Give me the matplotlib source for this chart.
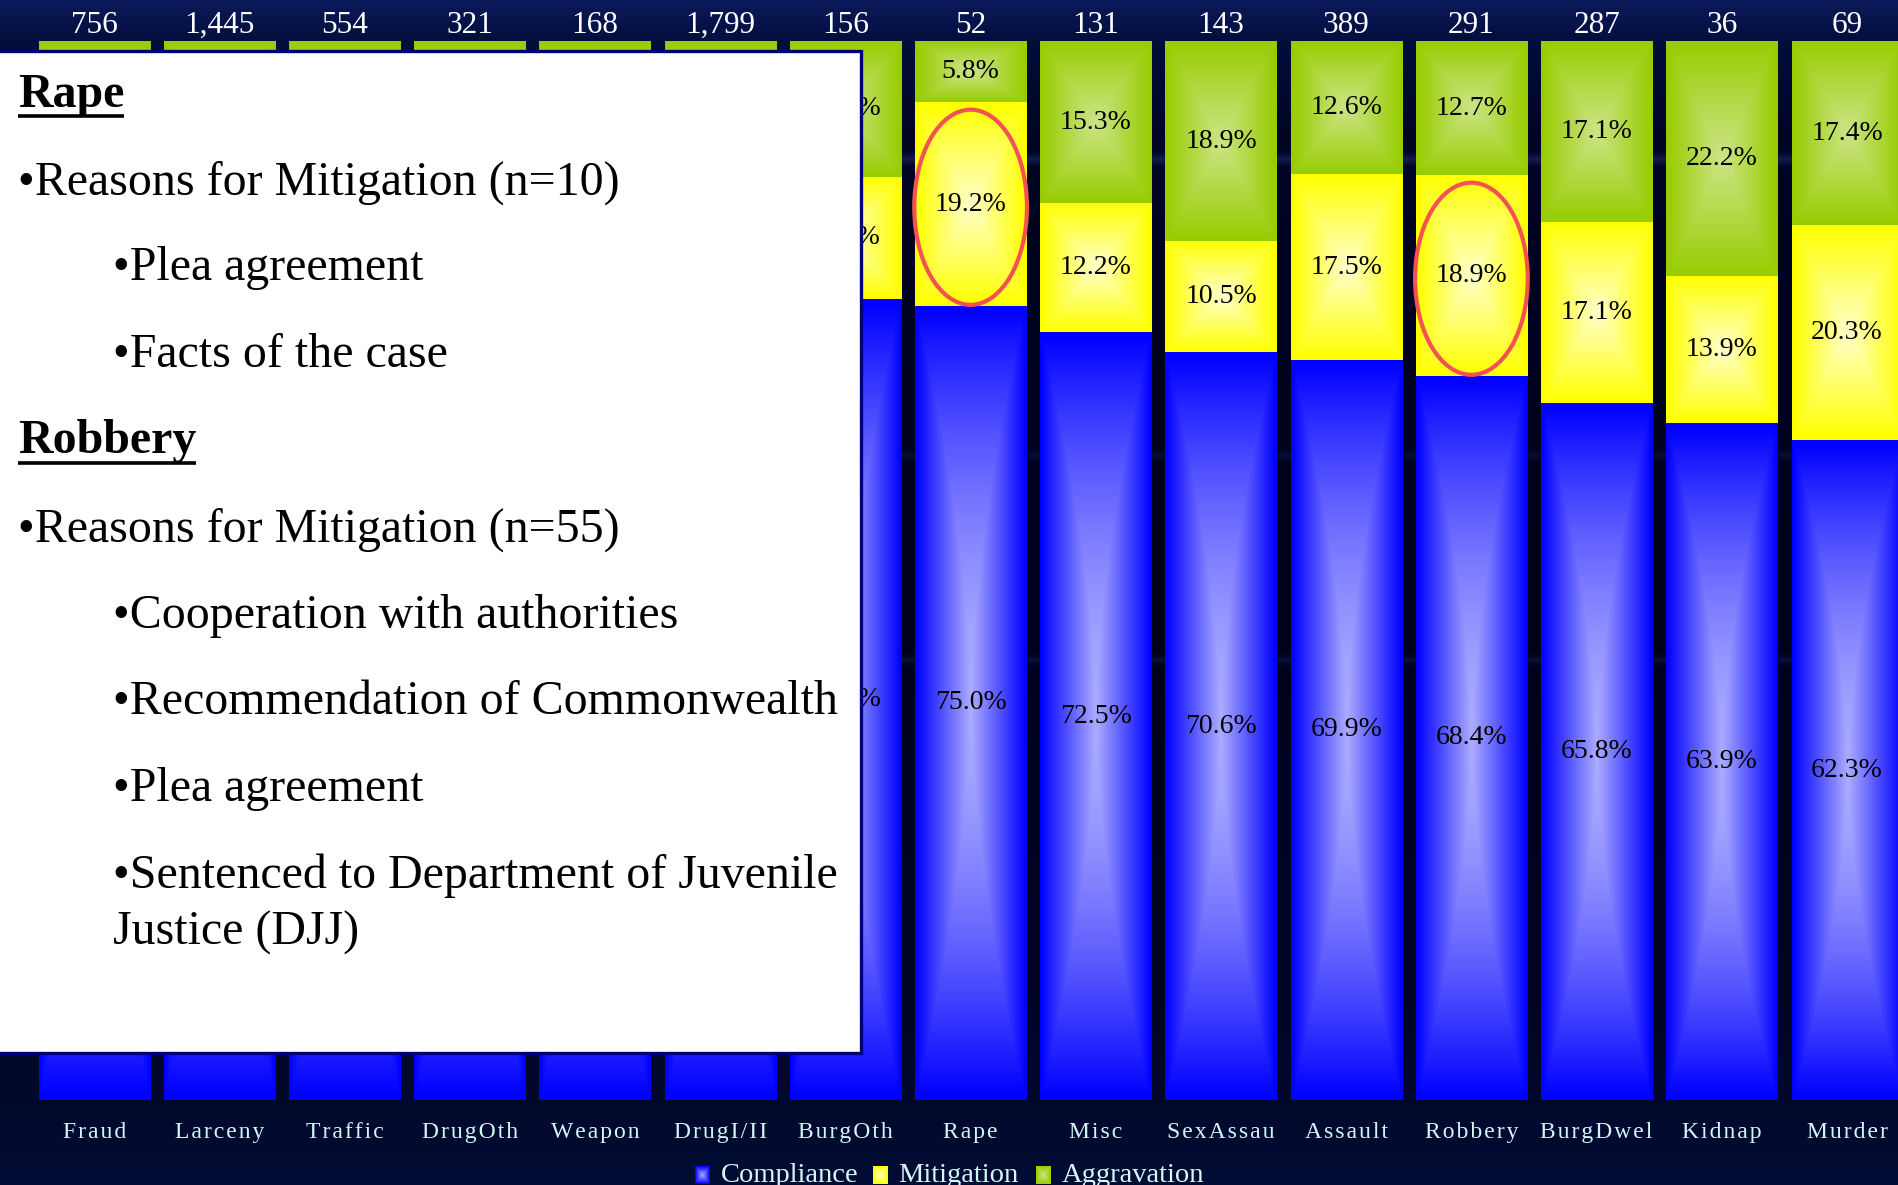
import numpy as np
import matplotlib
matplotlib.use("Agg")
import matplotlib.pyplot as plt
from matplotlib.patches import Rectangle, Ellipse
from matplotlib.colors import to_rgb
from matplotlib.transforms import Bbox

# ---------------- data ----------------
categories = ["Fraud", "Larceny", "Traffic", "DrugOth", "Weapon", "DrugI/II", "BurgOth",
              "Rape", "Misc", "SexAssau", "Assault", "Robbery", "BurgDwel", "Kidnap", "Murder"]
counts = ["756", "1,445", "554", "321", "168", "1,799", "156",
          "52", "131", "143", "389", "291", "287", "36", "69"]
compliance = [84.5, 82.1, 80.3, 79.4, 78.0, 76.9, 75.6, 75.0, 72.5, 70.6, 69.9, 68.4, 65.8, 63.9, 62.3]
mitigation = [7.8, 8.6, 9.4, 9.9, 10.7, 11.2, 11.6, 19.2, 12.2, 10.5, 17.5, 18.9, 17.1, 13.9, 20.3]
aggravation = [7.7, 9.3, 10.3, 10.7, 11.3, 11.9, 12.8, 5.8, 15.3, 18.9, 12.6, 12.7, 17.1, 22.2, 17.4]
series_names = ["Compliance", "Mitigation", "Aggravation"]
highlighted = ["Rape", "Robbery"]
# bars whose value labels are entirely covered by the note box in the original slide
covered = ["Fraud", "Larceny", "Traffic", "DrugOth", "Weapon", "DrugI/II"]

box_lines = [
    ("Rape", True, 0),
    ("\u2022Reasons for Mitigation (n=10)", False, 0),
    ("\u2022Plea agreement", False, 1),
    ("\u2022Facts of the case", False, 1),
    ("Robbery", True, 0),
    ("\u2022Reasons for Mitigation (n=55)", False, 0),
    ("\u2022Cooperation with authorities", False, 1),
    ("\u2022Recommendation of Commonwealth", False, 1),
    ("\u2022Plea agreement", False, 1),
    ("\u2022Sentenced to Department of Juvenile", False, 1),
    ("Justice (DJJ)", False, 1),
]

# ---------------- style ----------------
W, H = 1899, 1185
DPI = 100
SERIF = ["Liberation Serif", "DejaVu Serif"]
seg_colors = [("#0000ff", "#acacff"), ("#ffff00", "#ffffcc"), ("#99cc00", "#cce588")]
seg_vexp = [1.7, 1.0, 1.0]


def grad_img(edge, center, n=90, m=45, vexp=1.0):
    E = np.array(to_rgb(edge))
    C = np.array(to_rgb(center))
    u = np.abs(np.linspace(-1, 1, m))[None, :]
    v = np.abs(np.linspace(-1, 1, n))[:, None] ** vexp
    t = np.maximum(u, v)
    w = 1 - t
    return E + (C - E) * w[..., None]


def spaced(s):
    return "\u200a".join(s)


fig = plt.figure(figsize=(W / DPI, H / DPI), dpi=DPI)

# background
axbg = fig.add_axes([0, 0, 1, 1], zorder=0)
yy = np.linspace(0, 1, 400)
stops_y = [0.0, 0.035, 0.12, 0.5, 0.85, 1.0]
stops_c = np.array([(10, 26, 90), (4, 14, 60), (1, 4, 34), (0, 2, 28), (1, 5, 36), (3, 12, 52)]) / 255.0
col = np.stack([np.interp(yy, stops_y, stops_c[:, k]) for k in range(3)], axis=1)
bg = np.repeat(col[:, None, :], 200, axis=1)
for yc, amp, wd in [(158 / H, 0.18, 0.004), (455 / H, 0.10, 0.003), (660 / H, 0.12, 0.003)]:
    s = amp * np.exp(-((yy - yc) / wd) ** 2)
    bg += (s[:, None, None] * np.array([0.35, 0.5, 0.9])[None, None, :])
bg = np.clip(bg, 0, 1)
axbg.imshow(bg, extent=[0, 1, 0, 1], aspect="auto", origin="upper", interpolation="bilinear")
axbg.set_xlim(0, 1)
axbg.set_ylim(0, 1)
axbg.axis("off")

# main chart axes
bar_bottom_px, bar_top_px = 1100, 41
ax = fig.add_axes([0, (H - bar_bottom_px) / H, 1, (bar_bottom_px - bar_top_px) / H], zorder=1)
ax.patch.set_alpha(0)
x = np.arange(len(categories))
comp = np.array(compliance)
mit = np.array(mitigation)
agg = np.array(aggravation)
bw = 0.887
bars_c = ax.bar(x, comp, width=bw, color="none", edgecolor="none")
bars_m = ax.bar(x, mit, bottom=comp, width=bw, color="none", edgecolor="none")
bars_a = ax.bar(x, agg, bottom=comp + mit, width=bw, color="none", edgecolor="none")

for bars, (ec, cc), ve in zip([bars_c, bars_m, bars_a], seg_colors, seg_vexp):
    img = grad_img(ec, cc, vexp=ve)
    for p in bars:
        x0, y0 = p.get_x(), p.get_y()
        x1, y1 = x0 + p.get_width(), y0 + p.get_height()
        im = ax.imshow(img, extent=[x0, x1, y0, y1], origin="lower", aspect="auto",
                       interpolation="bilinear", zorder=2)
        im.set_clip_path(p)

# region not covered by the note box (display coords)
box_right_px = 861
visible_clip = Bbox.from_extents(box_right_px + 2, 0, W, H)

value_texts = []
for i in range(len(categories)):
    if categories[i] not in covered:
        for bottom, val in [(0, comp[i]), (comp[i], mit[i]), (comp[i] + mit[i], agg[i])]:
            t = ax.text(x[i], bottom + val / 2, f"{val:.1f}%", ha="center", va="center",
                        fontsize=20, family=SERIF, color="black", zorder=3)
            t.set_clip_box(visible_clip)
            t.set_clip_on(True)
    ax.text(x[i], 100.75, counts[i], ha="center", va="baseline", fontsize=22.5,
            family=SERIF, color="white", clip_on=False, zorder=3)
    ax.text(x[i], -3.6, spaced(categories[i]), ha="center", va="baseline", fontsize=17,
            family=SERIF, color="#d2f6f6", clip_on=False, zorder=3)

# highlight ellipses
for name in highlighted:
    i = categories.index(name)
    e = Ellipse((x[i], comp[i] + mit[i] / 2 - 0.3), width=0.9, height=mit[i] * 0.96,
                fill=False, edgecolor="#f45252", lw=3.0, zorder=4)
    ax.add_patch(e)

ax.set_xlim(-0.752, 14.415)
ax.set_ylim(0, 100)
ax.axis("off")

# overlay (pixel coordinates)
ov = fig.add_axes([0, 0, 1, 1], zorder=5)
ov.patch.set_alpha(0)

ov.add_patch(Rectangle((-6, 51), box_right_px + 6, 1002, facecolor="white",
                       edgecolor="#00007a", lw=2.4, zorder=1))

baselines = [107, 195, 280, 367, 453, 542, 628, 714, 801, 888, 945]
underline_y = {0: 116, 4: 463}
indent_x = [18, 113]
texts = []
for k, ((s, bold, ind), yb) in enumerate(zip(box_lines, baselines)):
    t = ov.text(indent_x[ind], yb, s, fontsize=34.5, family=SERIF,
                weight="bold" if bold else "normal", ha="left", va="baseline",
                color="black", zorder=2)
    texts.append(t)

# legend
leg_marker_x = [695, 873, 1036]
leg_text_x = [721, 898, 1062]
for name, (ec, cc), mx, tx in zip(series_names, seg_colors, leg_marker_x, leg_text_x):
    ov.imshow(grad_img(ec, cc, 20, 20), extent=[mx, mx + 15, 1184, 1166], aspect="auto",
              interpolation="bilinear", zorder=2)
    ov.text(tx, 1182, name, fontsize=20.5, family=SERIF, color="#d2f8f8",
            ha="left", va="baseline", zorder=2)

ov.set_xlim(0, W)
ov.set_ylim(H, 0)
ov.axis("off")

# underline headings
fig.canvas.draw()
r = fig.canvas.get_renderer()
for k, yu in underline_y.items():
    bb = texts[k].get_window_extent(renderer=r)
    ov.plot([bb.x0, bb.x1], [yu, yu], color="black", lw=2.6, solid_capstyle="butt", zorder=3)
ov.set_xlim(0, W)
ov.set_ylim(H, 0)

fig.savefig("out.png", dpi=DPI)
